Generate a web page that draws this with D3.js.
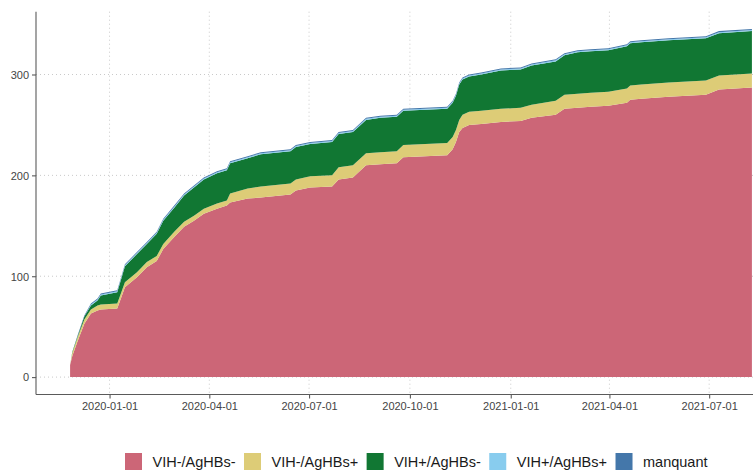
<!DOCTYPE html>
<html>
<head>
<meta charset="utf-8">
<script src="https://cdn.jsdelivr.net/npm/d3@7"></script>
<style>
  body { margin: 0; background: #fff; }
  svg { display: block; font-family: "Liberation Sans", Arial, sans-serif; }
</style>
</head>
<body>
<svg id="chart" width="753" height="473"></svg>
<script>
// Cumulative inclusions by serological status
const dates = [
  "2019-11-26","2019-11-28","2019-12-03","2019-12-09","2019-12-15","2019-12-21","2019-12-24",
  "2020-01-08","2020-01-11","2020-01-15","2020-01-26","2020-02-04","2020-02-13","2020-02-19",
  "2020-02-29","2020-03-09","2020-03-18","2020-03-27","2020-04-08","2020-04-17","2020-04-20",
  "2020-05-06","2020-05-18","2020-06-14","2020-06-19","2020-07-02","2020-07-22","2020-07-28",
  "2020-08-10","2020-08-22","2020-09-04","2020-09-19","2020-09-25","2020-11-04","2020-11-09",
  "2020-11-12","2020-11-15","2020-11-18","2020-11-24","2020-12-05","2020-12-14","2020-12-23",
  "2021-01-10","2021-01-20","2021-02-11","2021-02-19","2021-03-03","2021-03-15","2021-03-31",
  "2021-04-17","2021-04-20","2021-04-30","2021-05-25","2021-06-28","2021-07-10","2021-08-09"
];
const vihNegHbsNeg = [
  12, 21, 36, 53, 63, 66, 67,
  68, 77, 89, 99, 109, 115, 127,
  139, 149, 155, 162, 167, 170, 173,
  177, 178, 181, 185, 188, 189, 196,
  198, 210, 211, 212, 218, 220, 226,
  233, 243, 247, 250, 251, 252, 253,
  254, 257, 260, 266, 267, 268, 269,
  272, 275, 276, 278, 280, 285, 287
];
const vihNegHbsPos = [
  0, 3, 4, 4, 4, 5, 5,
  5, 5, 5, 5, 5, 5, 5,
  5, 5, 5, 5, 5, 5, 9,
  10, 11, 11, 11, 11, 11, 12,
  12, 12, 12, 12, 12, 12, 12,
  12, 12, 13, 13, 13, 13, 13,
  13, 13, 14, 14, 14, 14, 14,
  14, 14, 14, 14, 14, 14, 14
];
const vihPosHbsNeg = [
  0, 1, 1, 3, 4, 5, 9,
  11, 13, 16, 18, 18, 22, 23,
  24, 26, 28, 29, 30, 30, 30,
  30, 32, 32, 32, 32, 33, 33,
  33, 33, 34, 34, 34, 34, 34,
  34, 35, 35, 35, 36, 37, 38,
  38, 39, 39, 39, 41, 41, 41,
  42, 42, 42, 42, 42, 42, 42
];
const vihPosHbsPos = [
  0, 0, 0, 0, 1, 1, 1,
  1, 1, 1, 1, 1, 1, 1,
  1, 1, 1, 1, 1, 1, 1,
  1, 1, 1, 1, 1, 1, 1,
  1, 1, 1, 1, 1, 1, 1,
  1, 1, 1, 1, 1, 1, 1,
  1, 1, 1, 1, 1, 1, 1,
  1, 1, 1, 1, 1, 1, 1
];
const manquant = [
  0, 0, 1, 1, 1, 1, 1,
  1, 1, 1, 1, 1, 1, 1,
  1, 1, 1, 1, 1, 1, 1,
  1, 1, 1, 1, 1, 1, 1,
  1, 1, 1, 1, 1, 1, 1,
  1, 1, 1, 1, 1, 1, 1,
  1, 1, 1, 1, 1, 1, 1,
  1, 1, 1, 1, 1, 1, 1
];

const categories = ["VIH-/AgHBs-", "VIH-/AgHBs+", "VIH+/AgHBs-", "VIH+/AgHBs+", "manquant"];
const seriesValues = [vihNegHbsNeg, vihNegHbsPos, vihPosHbsNeg, vihPosHbsPos, manquant];
const colors = ["#CC6677", "#DDCC77", "#117733", "#88CCEE", "#4477AA"];
const xTickLabels = ["2020-01-01", "2020-04-01", "2020-07-01", "2020-10-01", "2021-01-01", "2021-04-01", "2021-07-01"];
const yTickValues = [0, 100, 200, 300];

const parse = d3.utcParse("%Y-%m-%d");
const rows = dates.map((d, i) => {
  const r = { date: parse(d) };
  categories.forEach((c, k) => { r[c] = seriesValues[k][i]; });
  return r;
});

const stacked = d3.stack().keys(categories)(rows);

const svg = d3.select("#chart");
const plot = { left: 36, right: 786, top: 11.7, bottom: 394.5 };

// 5% padding on both scales
const t0 = rows[0].date, t1 = rows[rows.length - 1].date;
const tPad = (t1 - t0) * 0.05;
const x = d3.scaleUtc()
  .domain([new Date(+t0 - tPad), new Date(+t1 + tPad)])
  .range([plot.left, plot.right]);

const yMax = d3.max(stacked[stacked.length - 1], d => d[1]);
const yPad = yMax * 0.05;
const y = d3.scaleLinear()
  .domain([-yPad, yMax + yPad])
  .range([plot.bottom, plot.top]);

const xTicks = xTickLabels.map(parse);

// dotted grid
const grid = svg.append("g");
grid.selectAll("line.h").data(yTickValues).join("line")
  .attr("x1", plot.left).attr("x2", plot.right)
  .attr("y1", d => y(d)).attr("y2", d => y(d))
  .attr("stroke", "#c9c9c9").attr("stroke-width", 1).attr("stroke-dasharray", "1,3");
grid.selectAll("line.v").data(xTicks).join("line")
  .attr("x1", d => x(d)).attr("x2", d => x(d))
  .attr("y1", plot.top).attr("y2", plot.bottom)
  .attr("stroke", "#c9c9c9").attr("stroke-width", 1).attr("stroke-dasharray", "1,3");

// stacked areas
const area = d3.area()
  .x(d => x(d.data.date))
  .y0(d => y(d[0]))
  .y1(d => y(d[1]));

svg.append("g").selectAll("path").data(stacked).join("path")
  .attr("d", area)
  .attr("fill", (d, i) => colors[i]);

// axes
const axisColor = "#5a5a5a";
const yAxis = svg.append("g")
  .attr("transform", `translate(${plot.left},0)`)
  .call(d3.axisLeft(y).tickValues(yTickValues).tickSize(4).tickPadding(3).tickSizeOuter(0));
const xAxis = svg.append("g")
  .attr("transform", `translate(0,${plot.bottom})`)
  .call(d3.axisBottom(x).tickValues(xTicks).tickFormat(d3.utcFormat("%Y-%m-%d"))
    .tickSize(4).tickPadding(4).tickSizeOuter(0));

[yAxis, xAxis].forEach(g => {
  g.select(".domain").remove();
  g.selectAll(".tick line").attr("stroke", axisColor).attr("stroke-width", 1.1);
  g.selectAll(".tick text").attr("fill", "#444").style("font-size", "11px")
    .style("font-family", '"Liberation Sans", Arial, sans-serif');
});
yAxis.selectAll(".tick text").attr("dy", "0.35em");

svg.append("line")
  .attr("x1", plot.left).attr("x2", plot.left)
  .attr("y1", plot.top).attr("y2", plot.bottom)
  .attr("stroke", axisColor).attr("stroke-width", 1.1);
svg.append("line")
  .attr("x1", plot.left).attr("x2", plot.right)
  .attr("y1", plot.bottom).attr("y2", plot.bottom)
  .attr("stroke", axisColor).attr("stroke-width", 1.1);

// legend
const legend = svg.append("g").attr("transform", "translate(125,453)");
let cursor = 0;
categories.forEach((c, i) => {
  const item = legend.append("g").attr("transform", `translate(${cursor},0)`);
  item.append("rect").attr("width", 17).attr("height", 17).attr("fill", colors[i]);
  const label = item.append("text")
    .attr("x", 27.5).attr("y", 8.5).attr("dy", "0.35em")
    .attr("fill", "#1a1a1a").style("font-size", "14.5px")
    .text(c);
  cursor += 27.5 + label.node().getComputedTextLength() + 8.5;
});
</script>
</body>
</html>
